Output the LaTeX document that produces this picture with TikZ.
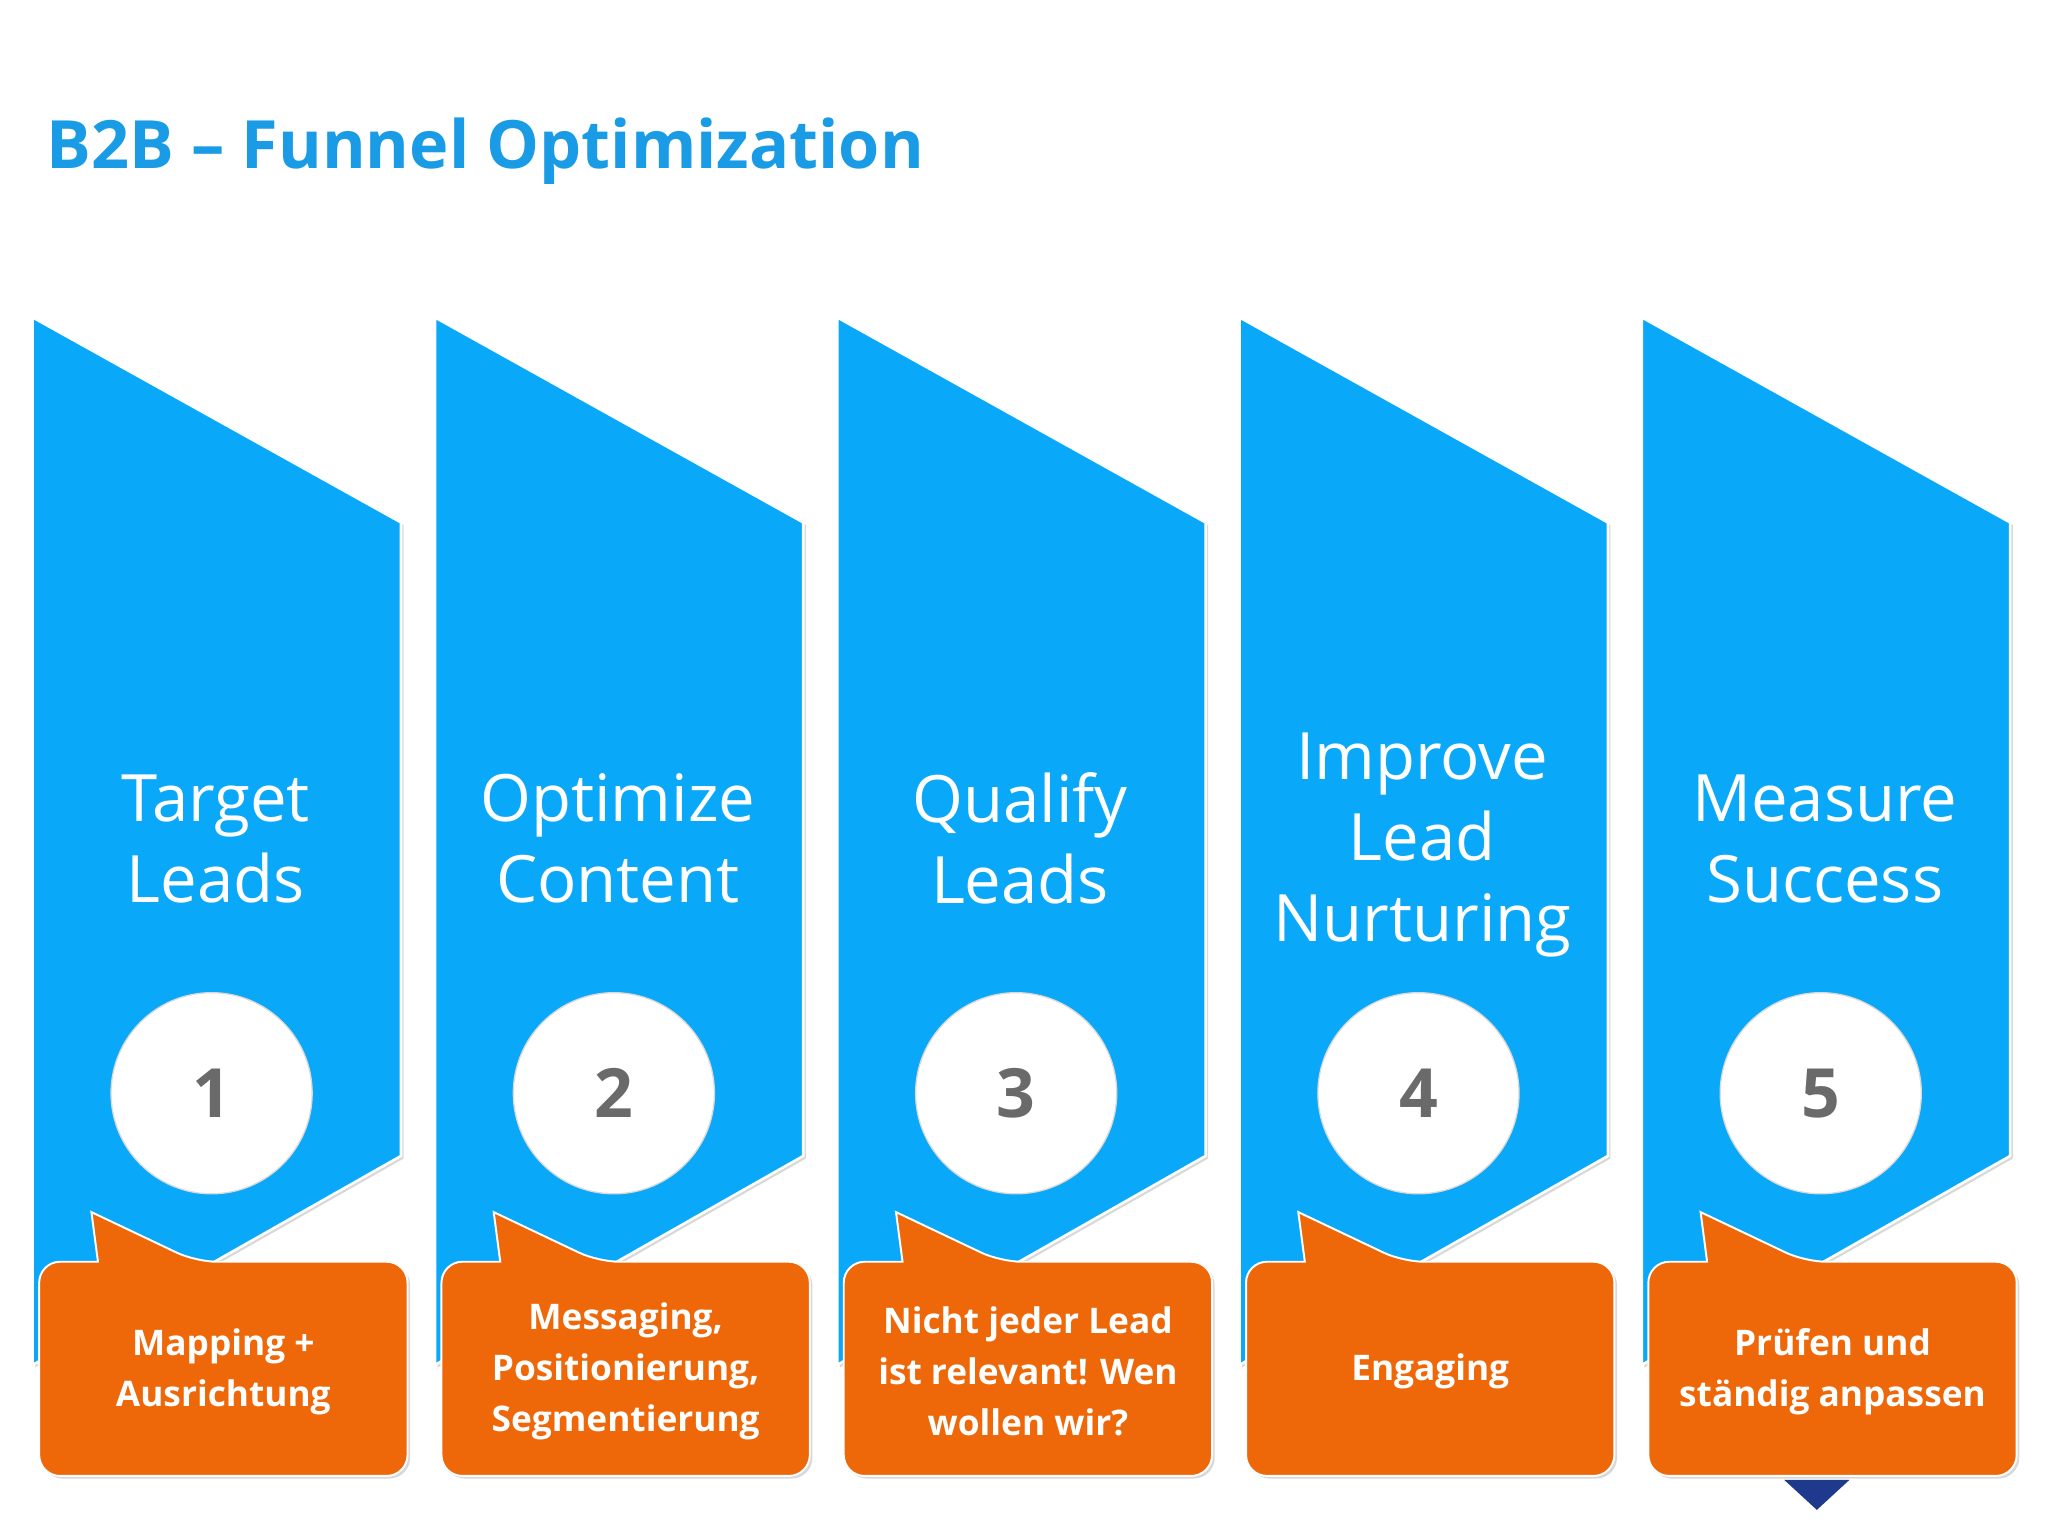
\documentclass[tikz,border=0pt]{standalone}
\usepackage{fontspec}
\setmainfont{Open Sans}
\newfontfamily\colfont{Open Sans}
\usetikzlibrary{shadows}
\definecolor{colblue}{HTML}{0AA8F8}
\definecolor{titleblue}{HTML}{1A9BE6}
\definecolor{callorange}{HTML}{EE6708}
\definecolor{numgray}{HTML}{6A6A6A}
\definecolor{navy}{HTML}{1F3A8C}
\tikzset{
  col/.style={fill=colblue,draw=white,line width=2pt,drop shadow={shadow xshift=2pt,shadow yshift=-2pt,opacity=0.3}},
  coltext/.style={text=white,font=\colfont\fontsize{50}{62}\selectfont,align=center},
  numc/.style={circle,minimum size=154pt,fill=white,draw=gray!30,line width=1pt,font=\colfont\bfseries\fontsize{52}{60}\selectfont,text=numgray,inner sep=0pt},
  call/.style={fill=callorange,draw=white,line width=1.5pt,rounded corners=16pt,drop shadow={shadow xshift=2pt,shadow yshift=-2pt,opacity=0.3}},
  calltext/.style={text=white,font=\bfseries\fontsize{27}{39}\selectfont,align=center}
}
\begin{document}
\begin{tikzpicture}[x=1pt,y=-1pt]
\useasboundingbox[fill=white] (0,0) rectangle (1568,1176);
\node[anchor=west,text=titleblue,font=\bfseries\fontsize{51}{58}\selectfont] (title) at (32,116) {B2B – Funnel Optimization};
\foreach \i/\lab/\num/\call/\ty in {
  0/{Target\\Leads}/1/{Mapping +\\Ausrichtung}/642,
  1/{Optimize\\Content}/2/{Messaging,\\Positionierung,\\Segmentierung}/642,
  2/{Qualify\\Leads}/3/{Nicht jeder Lead\\ist relevant! Wen\\wollen wir?}/642,
  3/{Improve\\Lead\\Nurturing}/4/{Engaging}/647,
  4/{Measure\\Success}/5/{Prüfen und\\ständig anpassen}/642}{
  \begin{scope}[xshift=\i*308]
    \path[col] (25,243) -- (307,400) -- (307,885) -- (25,1045) -- cycle;
    \node[coltext] (t\num) at (165,\ty) {\lab};
    \node[numc] (n\num) at (162,837) {\num};
    \path[call] (30,966) -- (30,1130) -- (312,1130) -- (312,966) -- (150,966) [sharp corners] -- (70,928) -- (75,966) [rounded corners=16pt] -- cycle;
    \node[calltext] (c\num) at (171,1050) {\call};
  \end{scope}
}
\fill[navy] (1366,1133) -- (1416,1133) -- (1391,1156) -- cycle;
\end{tikzpicture}
\end{document}
